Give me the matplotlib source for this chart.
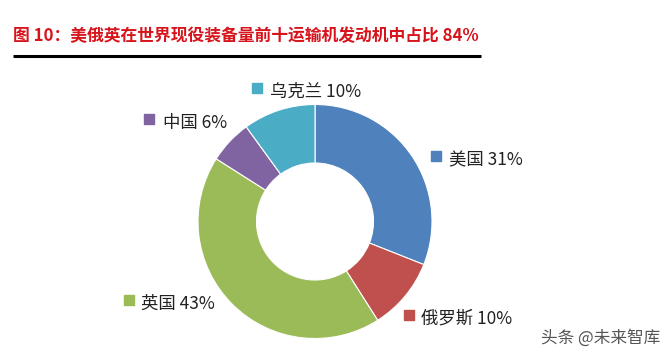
import matplotlib
matplotlib.use("Agg")
import matplotlib.pyplot as plt

plt.rcParams['font.family'] = ['Noto Sans CJK SC', 'DejaVu Sans']

title = "图 10：美俄英在世界现役装备量前十运输机发动机中占比 84%"
countries = ["美国", "俄罗斯", "英国", "中国", "乌克兰"]
shares = [31, 10, 43, 6, 10]
colors = ["#4F81BD", "#C0504D", "#9BBB59", "#8064A2", "#4BACC6"]

W, H = 672, 354
fig = plt.figure(figsize=(W / 100, H / 100), dpi=100)
fig.patch.set_facecolor("white")
ax = fig.add_axes([0, 0, 1, 1])

cx, cy, r = 315, H - 221.5, 117
ax.pie(shares, colors=colors, startangle=90, counterclock=False,
       center=(cx, cy), radius=r,
       wedgeprops=dict(width=r * 0.5, edgecolor="white", linewidth=0.8),
       frame=True)
ax.set_xlim(0, W)
ax.set_ylim(0, H)
ax.set_aspect("equal")
ax.axis("off")

# label positions (marker x, text x, y from top)
label_pos = {
    "美国": (436, 449, 160),
    "俄罗斯": (409, 421, 319),
    "英国": (129, 141, 304),
    "中国": (149, 163, 123),
    "乌克兰": (257, 270, 92),
}
for name, val, col in zip(countries, shares, colors):
    mx, tx, ty = label_pos[name]
    ax.scatter([mx], [H - ty + 4], marker="s", s=60, color=col, zorder=5)
    ax.text(tx, H - ty, f"{name} {val}%", fontsize=12.5, color="#222222",
            ha="left", va="center")

# title
fig.text(13 / W, 1 - 36 / H, title, fontsize=12.1, fontweight="heavy",
         color="#D7141C", ha="left", va="center")
ax.plot([13, 481], [H - 56, H - 56], color="black", linewidth=2.2,
        solid_capstyle="butt")

# watermark
fig.text(541 / W, 1 - 338 / H, "头条 @未来智库", fontsize=12,
         color="#555555", ha="left", va="center")

fig.savefig("out.png", dpi=100, facecolor="white")
